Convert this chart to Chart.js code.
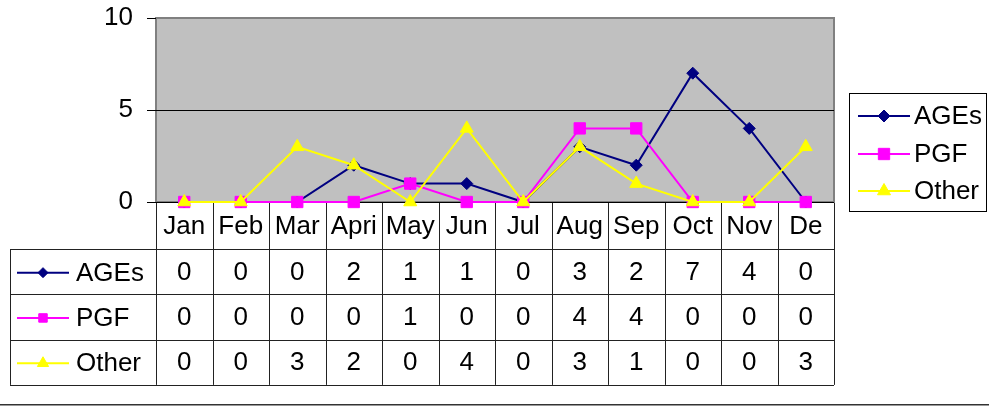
<!DOCTYPE html>
<html>
<head>
<meta charset="utf-8">
<script src="https://cdn.jsdelivr.net/npm/chart.js@4.4.1/dist/chart.umd.min.js"></script>
<style>
  body { margin: 0; background: #fff; }
  #wrap { width: 989px; height: 406px; }
</style>
</head>
<body>
<div id="wrap"><canvas id="chart" width="989" height="406"></canvas></div>
<script>
const months = ["Jan", "Feb", "Mar", "Apri", "May", "Jun", "Jul", "Aug", "Sep", "Oct", "Nov", "De"];
const agesValues = [0, 0, 0, 2, 1, 1, 0, 3, 2, 7, 4, 0];
const pgfValues = [0, 0, 0, 0, 1, 0, 0, 4, 4, 0, 0, 0];
const otherValues = [0, 0, 3, 2, 0, 4, 0, 3, 1, 0, 0, 3];
const yTicks = [0, 5, 10];

const FONT = '26px "Liberation Sans", Arial, sans-serif';

// gray plot area with border
const plotBackground = {
    id: "plotBackground",
    beforeDraw(chart) {
        const { ctx, chartArea: a } = chart;
        ctx.save();
        ctx.fillStyle = "#c0c0c0";
        ctx.fillRect(a.left, a.top, a.right - a.left, a.bottom - a.top);
        ctx.strokeStyle = "#808080";
        ctx.lineWidth = 2;
        ctx.strokeRect(a.left, a.top, a.right - a.left, a.bottom - a.top);
        ctx.restore();
    }
};

function drawKey(ctx, ds, x1, x2, y, radius) {
    ctx.save();
    ctx.strokeStyle = ds.borderColor;
    ctx.lineWidth = 2;
    ctx.beginPath();
    ctx.moveTo(x1, y);
    ctx.lineTo(x2, y);
    ctx.stroke();
    ctx.fillStyle = ds.pointBackgroundColor;
    ctx.strokeStyle = ds.borderColor;
    ctx.lineWidth = 1;
    Chart.helpers.drawPoint(ctx, { pointStyle: ds.pointStyle, radius: radius, rotation: 0, borderWidth: 1 }, (x1 + x2) / 2, y);
    ctx.restore();
}

// data table under the plot + legend box on the right
const dataTable = {
    id: "dataTable",
    beforeDatasetsDraw(chart) {
        // baseline of the plot (x axis line)
        const { ctx, chartArea: a } = chart;
        ctx.save();
        ctx.strokeStyle = "#000";
        ctx.lineWidth = 1;
        ctx.beginPath();
        ctx.moveTo(a.left, Math.round(a.bottom) + 0.5);
        ctx.lineTo(a.right, Math.round(a.bottom) + 0.5);
        ctx.stroke();
        ctx.restore();
    },
    afterDraw(chart) {
        const { ctx, chartArea: a } = chart;
        const xs = chart.scales.x;
        const colW = (a.right - a.left) / months.length;
        const top = a.bottom;
        const headH = 47;
        const rowH = 45.3;
        const left = 10;
        const rows = chart.data.datasets;
        const tableBottom = top + headH + rowH * rows.length;
        const px = v => Math.round(v) + 0.5;

        ctx.save();
        ctx.strokeStyle = "#222";
        ctx.lineWidth = 1;
        ctx.beginPath();
        for (let r = 0; r <= rows.length; r++) {
            const y = px(top + headH + r * rowH);
            ctx.moveTo(left, y); ctx.lineTo(a.right, y);
        }
        for (let c = 0; c <= months.length; c++) {
            const x = px(a.left + c * colW);
            ctx.moveTo(x, top + 1); ctx.lineTo(x, tableBottom);
        }
        ctx.moveTo(px(left), top + headH); ctx.lineTo(px(left), tableBottom);
        ctx.stroke();

        ctx.font = FONT;
        ctx.fillStyle = "#000";
        ctx.textAlign = "center";
        ctx.textBaseline = "middle";
        months.forEach((m, i) => {
            ctx.fillText(m, xs.getPixelForValue(i), top + headH / 2 + 1);
        });
        rows.forEach((ds, r) => {
            const cy = top + headH + r * rowH + rowH / 2 + 1;
            ds.data.forEach((v, i) => {
                ctx.fillText(String(v), xs.getPixelForValue(i), cy);
            });
        });
        const keyRadius = { rectRot: 5, rect: 6, triangle: 6.5 };
        rows.forEach((ds, r) => {
            const cy = top + headH + r * rowH + rowH / 2 + 1;
            drawKey(ctx, ds, 17, 69, cy, keyRadius[ds.pointStyle]);
            ctx.fillStyle = "#000";
            ctx.textAlign = "left";
            ctx.fillText(ds.label, 76, cy + 1);
        });

        // legend box
        ctx.strokeStyle = "#000";
        ctx.lineWidth = 1;
        ctx.strokeRect(849.5, 93.5, 137, 118);
        const legendY = [116, 154, 191];
        rows.forEach((ds, r) => {
            drawKey(ctx, ds, 858, 910, legendY[r], ds.pointRadius);
            ctx.fillStyle = "#000";
            ctx.textAlign = "left";
            ctx.fillText(ds.label, 914, legendY[r] + 1);
        });

        // bottom rule
        ctx.strokeStyle = "#333";
        ctx.lineWidth = 1.5;
        ctx.beginPath();
        ctx.moveTo(0, 404.8);
        ctx.lineTo(989, 404.8);
        ctx.stroke();
        ctx.restore();
    }
};

new Chart(document.getElementById("chart"), {
    type: "line",
    data: {
        labels: months,
        datasets: [
            {
                label: "AGEs", data: agesValues, order: 2, clip: false,
                borderColor: "#000080", backgroundColor: "#000080", pointBackgroundColor: "#000080",
                pointStyle: "rectRot", pointRadius: 6, borderWidth: 2, pointBorderWidth: 1
            },
            {
                label: "PGF", data: pgfValues, order: 1, clip: false,
                borderColor: "#ff00ff", backgroundColor: "#ff00ff", pointBackgroundColor: "#ff00ff",
                pointStyle: "rect", pointRadius: 8, borderWidth: 2, pointBorderWidth: 1
            },
            {
                label: "Other", data: otherValues, order: 0, clip: false,
                borderColor: "#ffff00", backgroundColor: "#ffff00", pointBackgroundColor: "#ffff00",
                pointStyle: "triangle", pointRadius: 7.5, borderWidth: 2, pointBorderWidth: 1
            }
        ]
    },
    options: {
        responsive: false,
        devicePixelRatio: 1,
        animation: false,
        layout: { padding: { left: 10, right: 155, top: 18, bottom: 204 } },
        elements: { line: { tension: 0 } },
        plugins: {
            legend: { display: false },
            tooltip: { enabled: false }
        },
        scales: {
            x: {
                type: "category",
                offset: true,
                display: false
            },
            y: {
                min: 0,
                max: 10,
                afterBuildTicks(scale) {
                    scale.ticks = yTicks.map(v => ({ value: v }));
                },
                afterFit(scale) {
                    scale.width = 146;
                    scale.paddingTop = 0;
                    scale.paddingBottom = 0;
                },
                border: { display: false },
                grid: {
                    color: ctx => ctx.tick && ctx.tick.value === 5 ? "#000" : "rgba(0,0,0,0)",
                    lineWidth: 1,
                    drawTicks: true,
                    tickLength: 9,
                    tickColor: "#000"
                },
                ticks: {
                    padding: 14,
                    color: "#000",
                    font: { family: '"Liberation Sans", Arial, sans-serif', size: 26 }
                }
            }
        }
    },
    plugins: [plotBackground, dataTable]
});
</script>
</body>
</html>
